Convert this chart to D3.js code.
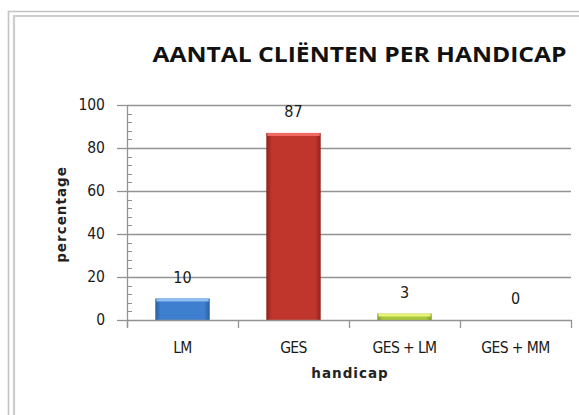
<!DOCTYPE html>
<html>
<head>
<meta charset="utf-8">
<script src="https://cdn.jsdelivr.net/npm/d3@7"></script>
<style>
  body { margin: 0; background: #fff; }
  svg { display: block; }
</style>
</head>
<body>
<svg id="chart"></svg>
<script>
// chart data
var categories = ["LM", "GES", "GES + LM", "GES + MM"];
var percentages = [10, 87, 3, 0];
var yTicks = [0, 20, 40, 60, 80, 100];
var barColors = [
  {base: "#3f7fcf", light: "#8cbdf2", dark: "#2a5d9e"},
  {base: "#c0352c", light: "#f26a62", dark: "#8f221b"},
  {base: "#a9c83a", light: "#e6f27c", dark: "#7f9a22"},
  {base: "#8064a2", light: "#a58bc6", dark: "#5e4780"}
];

var W = 579, H = 415;
var margin = {top: 105, right: 8, bottom: 95, left: 127},
    width = W - margin.left - margin.right,
    height = H - margin.top - margin.bottom;

var svg = d3.select("#chart").attr("width", W).attr("height", H);

// outer frame (double grey line)
svg.append("path")
   .attr("d", "M8.5," + H + "V11.5H" + W)
   .attr("fill", "none").attr("stroke", "#c4c4c4").attr("stroke-width", 1.6);
svg.append("path")
   .attr("d", "M14," + H + "V16H" + W)
   .attr("fill", "none").attr("stroke", "#cdcdcd").attr("stroke-width", 2.2);

svg.append("text")
   .attr("x", 359.5).attr("y", 62)
   .attr("text-anchor", "middle")
   .attr("textLength", 414)
   .attr("lengthAdjust", "spacingAndGlyphs")
   .style("font-family", "'Open Sans', sans-serif")
   .style("font-weight", "bold")
   .style("font-size", "21px")
   .attr("fill", "#111")
   .text("AANTAL CLIËNTEN PER HANDICAP");

var defs = svg.append("defs");
barColors.forEach(function(c, i) {
  var g = defs.append("linearGradient").attr("id", "bar" + i)
              .attr("x1", 0).attr("x2", 1).attr("y1", 0).attr("y2", 0);
  g.append("stop").attr("offset", "0%").attr("stop-color", c.dark);
  g.append("stop").attr("offset", "10%").attr("stop-color", c.base);
  g.append("stop").attr("offset", "90%").attr("stop-color", c.base);
  g.append("stop").attr("offset", "100%").attr("stop-color", c.dark);
});

var chart = svg.append("g")
               .attr("transform", "translate(" + margin.left + "," + margin.top + ")");

var x = d3.scaleBand().domain(categories).range([0, width]).paddingInner(0.51).paddingOuter(0.255);
var xb = d3.scaleBand().domain(categories).range([0, width]);
var y = d3.scaleLinear().domain([0, 100]).range([height, 0]);

var gridColor = "#939393";

// gridlines
chart.selectAll(".grid")
     .data(yTicks.slice(1))
     .enter().append("line")
     .attr("x1", 0).attr("x2", width)
     .attr("y1", function(d) { return Math.round(y(d)) + 0.5; })
     .attr("y2", function(d) { return Math.round(y(d)) + 0.5; })
     .attr("stroke", gridColor).attr("stroke-width", 1.3);

// minor ticks on y axis
chart.selectAll(".minor")
     .data(d3.range(0, 101, 4).filter(function(d) { return d % 20 !== 0; }))
     .enter().append("line")
     .attr("x1", 0).attr("x2", 5)
     .attr("y1", function(d) { return Math.round(y(d)) + 0.5; })
     .attr("y2", function(d) { return Math.round(y(d)) + 0.5; })
     .attr("stroke", gridColor);

var yAxis = chart.append("g")
     .call(d3.axisLeft(y).tickValues(yTicks).tickSize(10).tickPadding(12));
yAxis.select(".domain").attr("stroke", gridColor).attr("stroke-width", 1.3)
     .attr("d", "M0.5," + (height + 7) + "V0.5");
yAxis.selectAll(".tick line").attr("stroke", gridColor).attr("stroke-width", 1.3);
yAxis.selectAll("text")
     .style("font-family", "'DejaVu Sans Condensed', 'DejaVu Sans', sans-serif")
     .style("font-size", "15.5px")
     .attr("fill", "#1a1a1a");

// bars
chart.selectAll(".bar")
     .data(percentages)
     .enter().append("rect")
     .attr("x", function(d, i) { return x(categories[i]); })
     .attr("y", function(d) { return y(d); })
     .attr("width", x.bandwidth())
     .attr("height", function(d) { return height - y(d); })
     .attr("fill", function(d, i) { return "url(#bar" + i + ")"; });

// top bevel highlight
chart.selectAll(".bevel")
     .data(percentages)
     .enter().append("rect")
     .attr("x", function(d, i) { return x(categories[i]) + 1; })
     .attr("y", function(d) { return y(d); })
     .attr("width", x.bandwidth() - 2)
     .attr("height", function(d) { return Math.min(3, height - y(d)); })
     .attr("fill", function(d, i) { return barColors[i].light; });

// x axis
var xAxis = chart.append("g")
     .attr("transform", "translate(0," + height + ")")
     .call(d3.axisBottom(xb).tickSize(0).tickPadding(22));
xAxis.select(".domain").attr("stroke", gridColor).attr("stroke-width", 1.3);
xAxis.selectAll("text")
     .style("font-family", "'DejaVu Sans Condensed', 'DejaVu Sans', sans-serif")
     .style("font-size", "15.5px")
     .style("letter-spacing", "-0.6px")
     .attr("fill", "#1a1a1a");

chart.selectAll(".xtick")
     .data(d3.range(categories.length + 1))
     .enter().append("line")
     .attr("x1", function(i) { return Math.round(i * xb.step()) + 0.5; })
     .attr("x2", function(i) { return Math.round(i * xb.step()) + 0.5; })
     .attr("y1", height).attr("y2", height + 8)
     .attr("stroke", gridColor).attr("stroke-width", 1.3);

// value labels
chart.selectAll(".label")
     .data(percentages)
     .enter().append("text")
     .attr("x", function(d, i) { return x(categories[i]) + x.bandwidth() / 2; })
     .attr("y", function(d) { return y(d) - 16; })
     .attr("text-anchor", "middle")
     .style("font-family", "'DejaVu Sans Condensed', 'DejaVu Sans', sans-serif")
     .style("font-size", "16px")
     .attr("fill", "#1a1a1a")
     .text(function(d) { return d; });

// axis titles
chart.append("text")
     .attr("x", width / 2 + 1).attr("y", height + 58)
     .attr("text-anchor", "middle")
     .style("font-family", "'DejaVu Sans', sans-serif")
     .style("font-weight", "bold")
     .style("font-size", "13.5px")
     .style("letter-spacing", "1px")
     .attr("fill", "#222")
     .text("handicap");

chart.append("text")
     .attr("transform", "translate(-61," + (height / 2 + 2) + ") rotate(-90)")
     .attr("text-anchor", "middle")
     .style("font-family", "'DejaVu Sans', sans-serif")
     .style("font-weight", "bold")
     .style("font-size", "13.5px")
     .style("letter-spacing", "1px")
     .attr("fill", "#222")
     .text("percentage");
</script>
</body>
</html>
